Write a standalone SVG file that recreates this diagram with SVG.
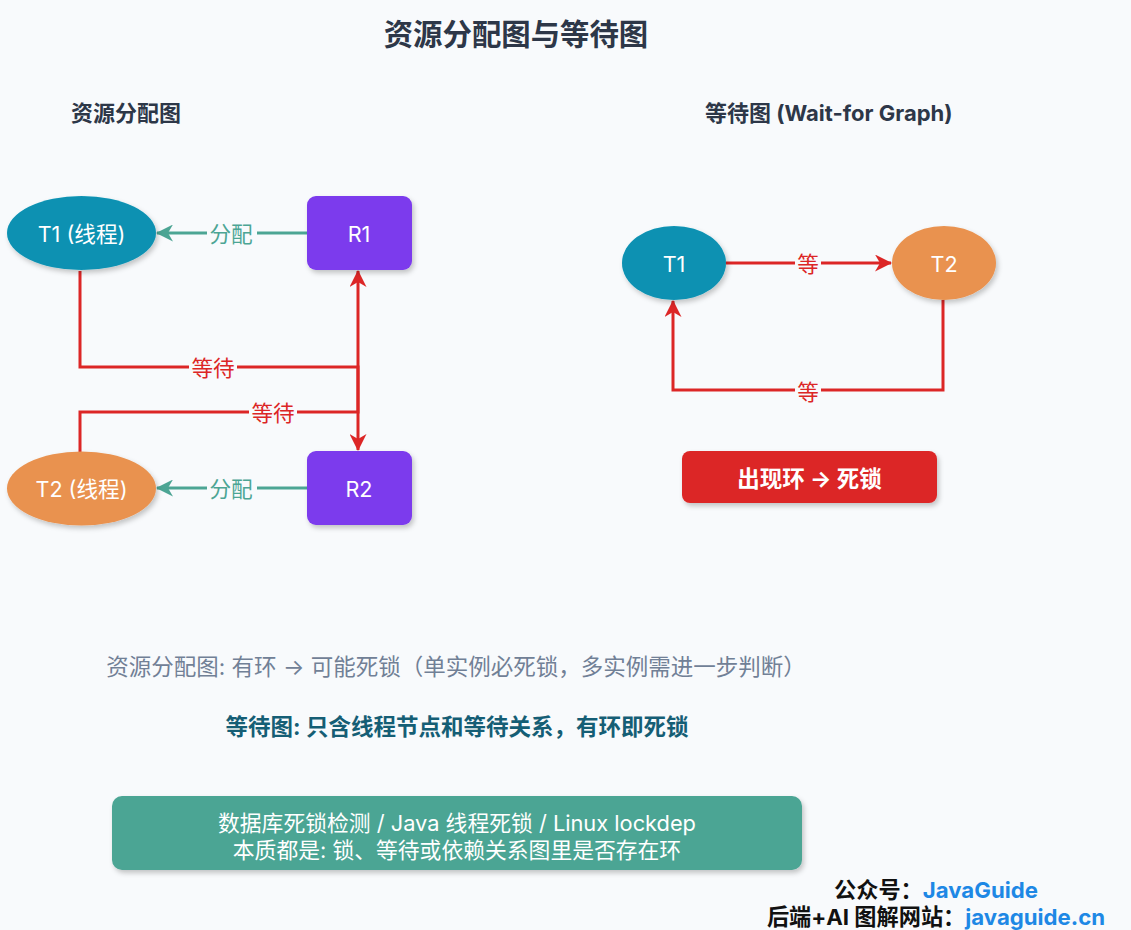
<svg xmlns="http://www.w3.org/2000/svg" width="1131" height="930" viewBox="0 0 1131 930">
<defs>
<filter id="sh" x="-20%" y="-20%" width="150%" height="160%">
<feDropShadow dx="2" dy="3" stdDeviation="2.5" flood-color="#000" flood-opacity="0.22"/>
</filter>
<marker id="aT" viewBox="0 0 17 17" refX="16" refY="8.5" markerWidth="17" markerHeight="17" markerUnits="userSpaceOnUse" orient="auto">
<path d="M0,0 L17,8.5 L0,17 L5,8.5 z" fill="#4ca594"/>
</marker>
<marker id="aR" viewBox="0 0 17 17" refX="16" refY="8.5" markerWidth="17" markerHeight="17" markerUnits="userSpaceOnUse" orient="auto">
<path d="M0,0 L17,8.5 L0,17 L5,8.5 z" fill="#dc2626"/>
</marker>
</defs>
<style>
text{font-family:Inter,"Noto Sans CJK SC",sans-serif;dominant-baseline:central;text-anchor:middle}
.title{font-size:29.4px;font-weight:700;fill:#2d3748}
.sub{font-size:22px;font-weight:700;fill:#2d3748;text-anchor:start}
.node{font-size:21.6px;fill:#fff}
.lblT{font-size:21.6px;fill:#4ca594}
.lblR{font-size:21.6px;fill:#dc2626}
.gap{fill:#f8fafc}
.tl{stroke:#4ca594;stroke-width:3;fill:none}
.rl{stroke:#dc2626;stroke-width:3;fill:none}
.note{font-size:22.5px;fill:#718096}
.note2{font-size:22.5px;font-weight:700;fill:#155e75}
.box{font-size:21.8px;fill:#fff}
.ft{font-size:22.2px;font-weight:700;fill:#111}
.fb{fill:#1e88e5}
</style>
<rect width="1131" height="930" fill="#f8fafc"/>
<text class="title" x="516" y="34">资源分配图与等待图</text>
<text class="sub" x="71" y="113">资源分配图</text>
<text class="sub" x="705" y="113">等待图 (Wait-for Graph)</text>

<g id="connectors">
<line class="tl" x1="307" y1="233" x2="157" y2="233" marker-end="url(#aT)"/>
<rect class="gap" x="207" y="220" width="50" height="26"/>
<text class="lblT" x="231" y="234">分配</text>
<line class="tl" x1="307" y1="488" x2="157" y2="488" marker-end="url(#aT)"/>
<rect class="gap" x="207" y="475" width="50" height="26"/>
<text class="lblT" x="231" y="489">分配</text>

<polyline class="rl" points="80,271 80,367 358,367 358,450" marker-end="url(#aR)"/>
<polyline class="rl" points="80,452 80,412 358,412 358,271" marker-end="url(#aR)"/>
<rect class="gap" x="189" y="354" width="48" height="26"/>
<text class="lblR" x="213" y="368">等待</text>
<rect class="gap" x="249" y="399" width="48" height="26"/>
<text class="lblR" x="273" y="413">等待</text>

<line class="rl" x1="726" y1="263" x2="891" y2="263" marker-end="url(#aR)"/>
<rect class="gap" x="795" y="250" width="26" height="26"/>
<text class="lblR" x="808" y="264">等</text>
<polyline class="rl" points="943,300 943,390 673,390 673,301" marker-end="url(#aR)"/>
<rect class="gap" x="795" y="377" width="26" height="26"/>
<text class="lblR" x="808" y="392">等</text>
</g>

<g id="T1">
<ellipse cx="81.5" cy="233" rx="74.5" ry="37" fill="#0891b2" filter="url(#sh)"/>
<text class="node" x="81.5" y="234">T1 (线程)</text>
</g>
<g id="R1">
<rect x="307" y="196" width="105" height="74" rx="9" fill="#7c3aed" filter="url(#sh)"/>
<text class="node" x="359" y="234">R1</text>
</g>
<g id="T2">
<ellipse cx="81.5" cy="488.5" rx="74.5" ry="37" fill="#e9924f" filter="url(#sh)"/>
<text class="node" x="81.5" y="489">T2 (线程)</text>
</g>
<g id="R2">
<rect x="307" y="451" width="105" height="74" rx="9" fill="#7c3aed" filter="url(#sh)"/>
<text class="node" x="359" y="489">R2</text>
</g>
<g id="WT1">
<ellipse cx="674" cy="263" rx="52" ry="37" fill="#0891b2" filter="url(#sh)"/>
<text class="node" x="674" y="264">T1</text>
</g>
<g id="WT2">
<ellipse cx="944" cy="263" rx="52" ry="37" fill="#e9924f" filter="url(#sh)"/>
<text class="node" x="944" y="264">T2</text>
</g>
<g id="deadlock">
<rect x="682" y="451" width="255" height="52" rx="8" fill="#dc2626" filter="url(#sh)"/>
<text x="809.5" y="478" style="font-size:22.5px;font-weight:700;fill:#fff">出现环 → 死锁</text>
</g>

<text class="note" x="456" y="666">资源分配图: 有环 → 可能死锁（单实例必死锁，多实例需进一步判断）</text>
<text class="note2" x="457" y="726">等待图: 只含线程节点和等待关系，有环即死锁</text>

<g id="summary">
<rect x="112" y="796" width="690" height="74" rx="10" fill="#4ca594" filter="url(#sh)"/>
<text class="box" x="457" y="823">数据库死锁检测 / Java 线程死锁 / Linux lockdep</text>
<text class="box" x="457" y="850">本质都是: 锁、等待或依赖关系图里是否存在环</text>
</g>

<text class="ft" x="936" y="889">公众号：<tspan class="fb">JavaGuide</tspan></text>
<text class="ft" x="936" y="916">后端+AI 图解网站：<tspan class="fb">javaguide.cn</tspan></text>
</svg>
